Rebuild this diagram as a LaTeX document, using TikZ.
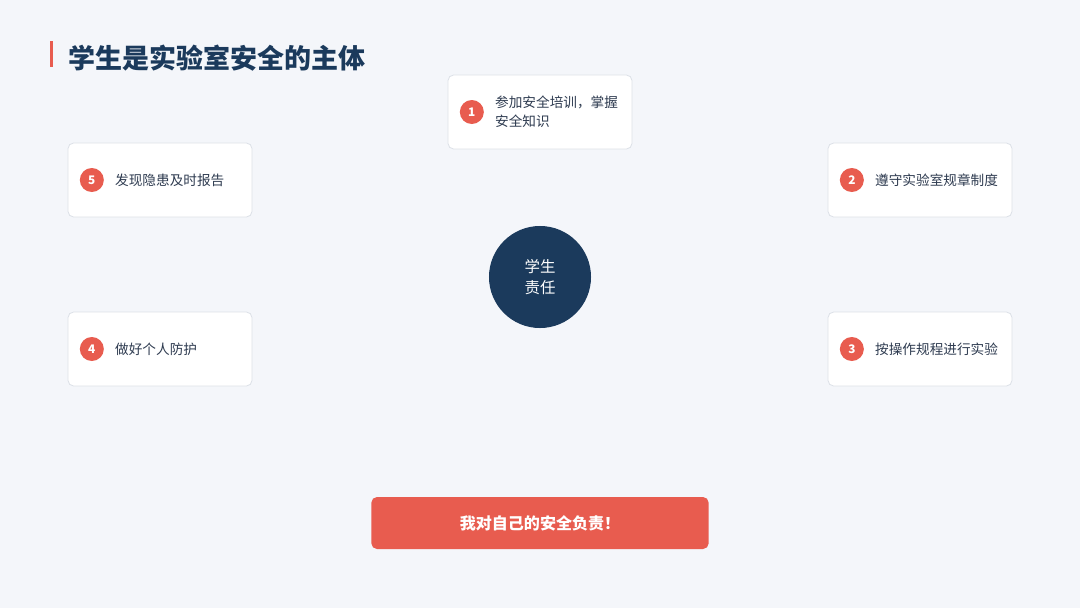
\documentclass[tikz,border=0pt]{standalone}
\usepackage{fontspec}
\setmainfont{Noto Sans CJK SC}
\usetikzlibrary{positioning}

\definecolor{navy}{HTML}{1B3A5C}
\definecolor{accent}{HTML}{E85C4F}
\definecolor{bgpage}{HTML}{F4F6FA}
\definecolor{cardline}{HTML}{DDE1E8}
\definecolor{bodytext}{HTML}{2E3B50}

\tikzset{
  card/.style={rectangle,rounded corners=4pt,draw=cardline,fill=white,line width=0.6pt,minimum width=4.6cm,minimum height=1.85cm},
  badge/.style={circle,fill=accent,text=white,inner sep=0pt,minimum size=0.6cm,font=\fontsize{8.4}{8.4}\selectfont\bfseries},
  cardtext/.style={inner sep=0pt,text=bodytext,align=left,font=\fontsize{9.7}{13.6}\selectfont}
}

\begin{document}
\begin{tikzpicture}[x=0.025cm,y=-0.025cm]
\fill[bgpage] (0,0) rectangle (1080,608);
\useasboundingbox (0,0) rectangle (1080,608);

% title
\fill[accent] (50,41) rectangle (53,67);
\node[anchor=west,inner sep=0pt,text=navy,font=\fontsize{19.2}{19.2}\selectfont\bfseries] (title) at (68,58) {学生是实验室安全的主体};

% cards
\node[card] (c1) at (540,112) {};
\node[badge,right=0.3cm of c1.west] (b1) {1};
\node[cardtext,right=0.27cm of b1] (t1) {参加安全培训，掌握\\安全知识};

\node[card] (c2) at (920,180) {};
\node[badge,right=0.3cm of c2.west] (b2) {2};
\node[cardtext,right=0.27cm of b2] (t2) {遵守实验室规章制度};

\node[card] (c3) at (920,349) {};
\node[badge,right=0.3cm of c3.west] (b3) {3};
\node[cardtext,right=0.27cm of b3] (t3) {按操作规程进行实验};

\node[card] (c4) at (160,349) {};
\node[badge,right=0.3cm of c4.west] (b4) {4};
\node[cardtext,right=0.27cm of b4] (t4) {做好个人防护};

\node[card] (c5) at (160,180) {};
\node[badge,right=0.3cm of c5.west] (b5) {5};
\node[cardtext,right=0.27cm of b5] (t5) {发现隐患及时报告};

% centre
\node[circle,fill=navy,text=white,minimum size=2.55cm,align=center,font=\fontsize{11}{15}\selectfont] (hub) at (540,277) {学生\\责任};

% motto
\node[rectangle,rounded corners=4pt,fill=accent,text=white,minimum width=8.43cm,minimum height=1.3cm,font=\fontsize{11.4}{11.4}\selectfont\bfseries] (motto) at (540,523) {我对自己的安全负责！};

\end{tikzpicture}
\end{document}
